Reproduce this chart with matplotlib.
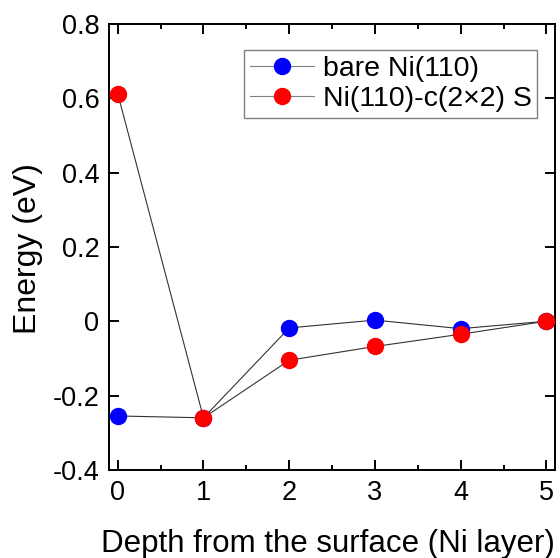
import numpy as np
import matplotlib.pyplot as plt
from matplotlib.ticker import MultipleLocator

plt.rcParams['font.family'] = ['Liberation Sans', 'DejaVu Sans']

# Data
depth = [0, 1, 2, 3, 4, 5]
bare = [-0.255, -0.26, -0.018, 0.003, -0.02, 0.0]
sulfur = [0.612, -0.26, -0.105, -0.068, -0.035, 0.0]
yticks = [-0.4, -0.2, 0, 0.2, 0.4, 0.6, 0.8]
ytick_labels = ['-0.4', '-0.2', '0', '0.2', '0.4', '0.6', '0.8']

fig = plt.figure(figsize=(5.6, 5.58), dpi=100)
ax = fig.add_axes([0.195, 0.158, 0.796, 0.799])

ax.plot(depth, bare, '-o', color='#333333', lw=0.8, mfc='blue', mec='blue',
        ms=11.5, label='bare Ni(110)', zorder=3)
ax.plot(depth, sulfur, '-o', color='#333333', lw=0.8, mfc='red', mec='red',
        ms=11.5, label='Ni(110)-c(2×2) S', zorder=4)

ax.set_xlim(-0.1, 5.1)
ax.set_ylim(-0.4, 0.8)
ax.xaxis.set_major_locator(MultipleLocator(1))
ax.xaxis.set_minor_locator(MultipleLocator(0.5))
ax.set_yticks(yticks)
ax.set_yticklabels(ytick_labels)

ax.tick_params(which='both', direction='in', top=True, right=True, labelsize=19.5, width=1.4)
ax.tick_params(which='major', length=7.2, pad=7)
ax.tick_params(which='minor', length=3.6)
for s in ax.spines.values():
    s.set_linewidth(1.4)

ax.set_xlabel('Depth from the surface (Ni layer)', fontsize=22.5, va='baseline')
ax.xaxis.set_label_coords(0.491, -0.184)
ax.set_ylabel('Energy (eV)', fontsize=23, va='bottom')
ax.yaxis.set_label_coords(-0.148, 0.496)

leg = ax.legend(loc='upper right', bbox_to_anchor=(0.960, 0.942), borderaxespad=0,
                fontsize=20.5, fancybox=False, edgecolor='gray', framealpha=1,
                handlelength=2.25, handletextpad=0.3, borderpad=0.2,
                labelspacing=0.15)
leg.get_frame().set_linewidth(1.0)
for h in leg.legend_handles:
    h.set_color('gray')

plt.savefig('out.png')
